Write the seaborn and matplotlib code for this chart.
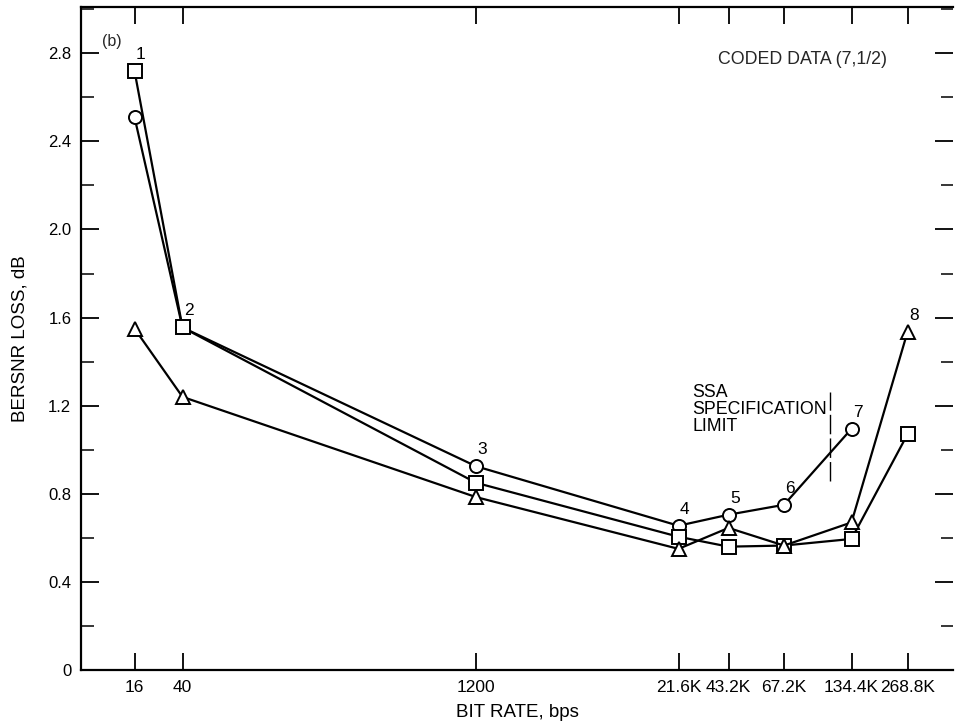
import numpy as np
import pandas as pd
import matplotlib
matplotlib.use("Agg")
import matplotlib.pyplot as plt
import seaborn as sns
from matplotlib.ticker import MultipleLocator, FixedLocator

# ---------------- data ----------------
bit_rates = ["16", "40", "1200", "21.6K", "43.2K", "67.2K", "134.4K", "268.8K"]
point_ids = ["1", "2", "3", "4", "5", "6", "7", "8"]
loss_circle = [2.51, 1.555, 0.925, 0.655, 0.705, 0.75, 1.095, np.nan]
loss_square = [2.72, 1.555, 0.85, 0.605, 0.56, 0.565, 0.595, 1.07]
loss_triangle = [1.55, 1.24, 0.785, 0.55, 0.645, 0.565, 0.67, 1.535]
spec_limit_range = [0.86, 1.26]

# ---------------- layout ----------------
# axis positions of each bit rate (nonuniform axis of the original figure)
x_positions = [134.5, 182.5, 476.0, 678.5, 728.5, 784.0, 851.5, 907.5]
x_limits = (81, 953)
spec_limit_x = 830

sns.set_theme(style="white")
plt.rcParams["font.family"] = ["Liberation Sans", "DejaVu Sans"]

fig = plt.figure(figsize=(9.56, 7.28), dpi=100)
ax = fig.add_axes([81 / 956, 1 - 670 / 728, (953 - 81) / 956, (670 - 7) / 728])

series = [
    ("circle", loss_circle, "o", 9.4),
    ("square", loss_square, "s", 9.4),
    ("triangle", loss_triangle, "^", 10.5),
]
for name, vals, mk, ms in series:
    df = pd.DataFrame({"x": x_positions, "y": vals}).dropna()
    sns.lineplot(data=df, x="x", y="y", ax=ax, color="black", linewidth=1.6,
                 marker=mk, markersize=ms, markerfacecolor="white",
                 markeredgecolor="black", markeredgewidth=1.4, sort=False,
                 estimator=None)

# point numbers above the topmost marker at each bit rate
tops = np.nanmax(np.vstack([loss_circle, loss_square, loss_triangle]), axis=0)
for xp, top, pid in zip(x_positions, tops, point_ids):
    ax.annotate(pid, (xp, top), xytext=(4.5, 12), textcoords="offset points",
                ha="center", va="center", fontsize=12.5, color="black")

# specification limit (dashed vertical)
ax.plot([spec_limit_x, spec_limit_x], spec_limit_range, color="black",
        linewidth=1.0, linestyle=(0, (14, 3)))
ax.text(692, 1.30, "SSA\nSPECIFICATION\nLIMIT", ha="left", va="top",
        fontsize=12.8, color="black", linespacing=1.0)

ax.text(112, 2.855, "(b)", ha="center", va="center", fontsize=11.5)
ax.text(887, 2.77, "CODED DATA (7,1/2)", ha="right", va="center", fontsize=12.8)

# axes formatting
ax.set_xlim(*x_limits)
ax.set_ylim(0, 3.01)
ax.xaxis.set_major_locator(FixedLocator(x_positions))
ax.set_xticklabels(bit_rates)
ax.yaxis.set_major_locator(MultipleLocator(0.4))
ax.yaxis.set_minor_locator(MultipleLocator(0.2))
yt = np.arange(0, 2.81, 0.4)
ax.set_yticks(yt)
ax.set_yticklabels(["0"] + [f"{v:.1f}" for v in yt[1:]])

ax.tick_params(axis="x", which="major", direction="in", length=12, width=1.3,
               top=True, bottom=True, labelsize=12.5, pad=7, colors="black")
ax.tick_params(axis="y", which="major", direction="in", length=13, width=1.3,
               left=True, right=True, labelsize=12, pad=7, colors="black")
ax.tick_params(axis="y", which="minor", direction="in", length=9, width=1.3,
               left=True, right=True)

for side in ["left", "bottom", "top"]:
    ax.spines[side].set_visible(True)
    ax.spines[side].set_color("black")
    ax.spines[side].set_linewidth(1.6)
ax.spines["right"].set_visible(False)

ax.set_xlabel("BIT RATE, bps", fontsize=13.5, labelpad=7, color="black")
ax.set_ylabel("BERSNR LOSS, dB", fontsize=13.5, labelpad=14, color="black")
ax.grid(False)

fig.savefig("out.png", dpi=100, facecolor="white")
